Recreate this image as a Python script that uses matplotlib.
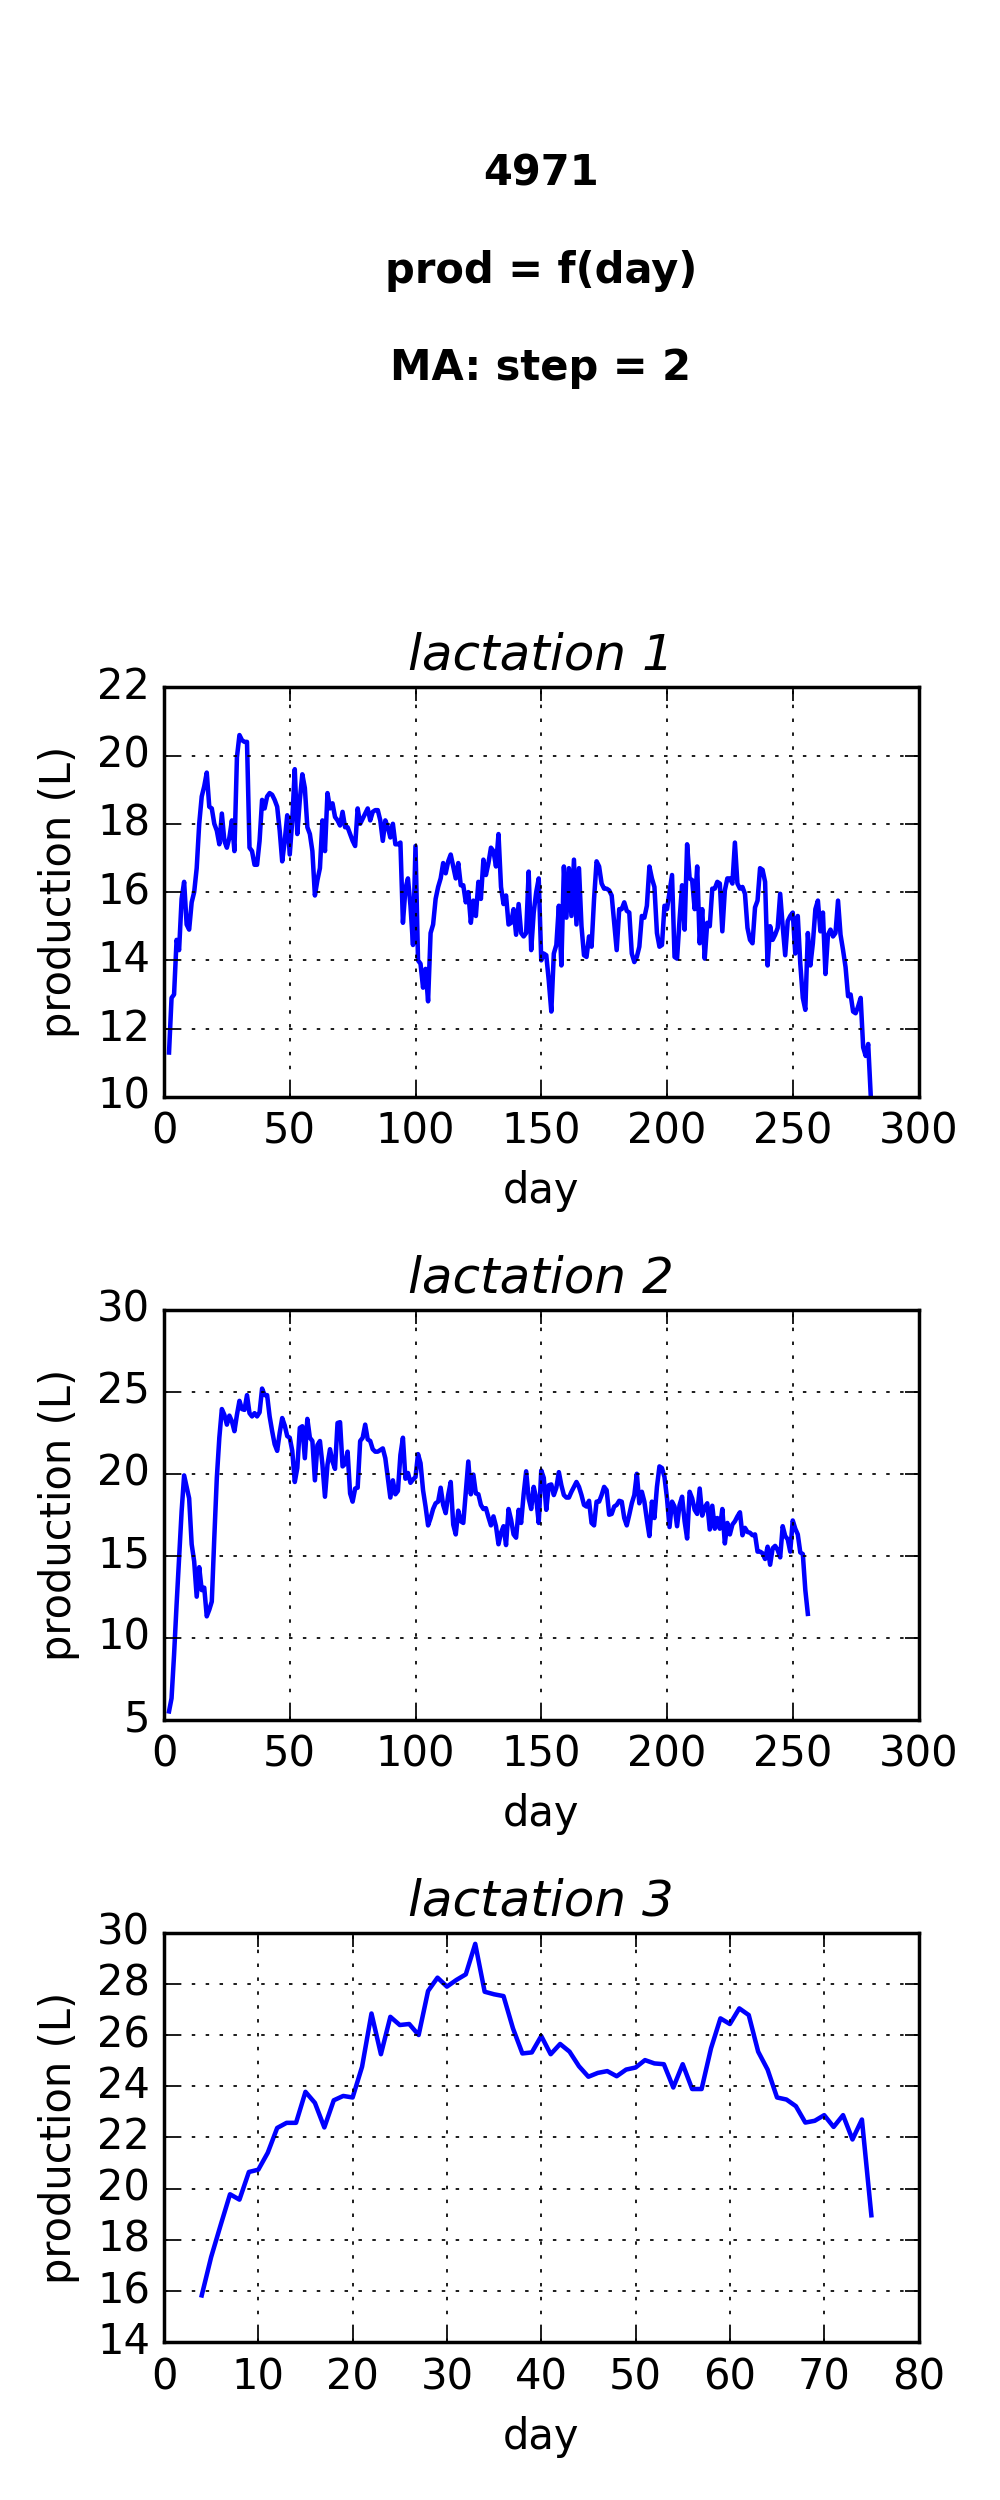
import matplotlib
matplotlib.use('Agg')
import matplotlib.pyplot as plt

plt.style.use('classic')
plt.rcParams['figure.facecolor'] = 'white'
plt.rcParams['savefig.facecolor'] = 'white'

# moving average (step 2) of daily production, one value per day
day1 = list(range(2, 282))
prod1 = [11.3, 12.9, 13.0, 14.6, 14.3, 15.8, 16.3, 15.05, 14.9, 15.7,
         16.0, 16.7, 18.0, 18.8, 19.1, 19.5, 18.5, 18.45, 18.0, 17.8,
         17.4, 18.3, 17.5, 17.3, 17.6, 18.1, 17.2, 19.95, 20.6, 20.45,
         20.4, 20.4, 17.3, 17.2, 16.8, 16.8, 17.5, 18.7, 18.45, 18.8,
         18.9, 18.85, 18.7, 18.5, 17.8, 16.9, 17.5, 18.25, 17.1, 18.1,
         19.6, 17.7, 18.7, 19.45, 19.05, 17.9, 17.7, 17.2, 15.9, 16.35,
         16.7, 18.1, 17.2, 18.9, 18.45, 18.6, 18.2, 18.1, 17.95, 18.35,
         17.9, 17.9, 17.7, 17.5, 17.35, 18.45, 18.0, 18.15, 18.3, 18.45,
         18.1, 18.35, 18.4, 18.4, 18.1, 17.5, 18.1, 17.9, 17.6, 18.0,
         17.4, 17.4, 17.45, 15.1, 16.1, 16.4, 15.6, 14.45, 17.35, 14.0,
         13.9, 13.2, 13.75, 12.8, 14.8, 15.05, 15.8, 16.15, 16.4, 16.85,
         16.55, 16.9, 17.1, 16.75, 16.4, 16.85, 16.2, 16.2, 15.7, 16.0,
         15.1, 15.75, 15.3, 16.3, 15.8, 16.95, 16.5, 16.85, 17.3, 17.2,
         16.75, 17.7, 16.15, 15.65, 15.9, 15.05, 15.1, 15.5, 14.75, 15.65,
         14.8, 14.7, 14.8, 16.6, 14.3, 15.4, 16.0, 16.4, 14.0, 14.2,
         14.15, 13.4, 12.5, 14.2, 14.45, 15.6, 13.85, 16.75, 15.25, 16.7,
         15.3, 16.95, 15.05, 16.7, 15.0, 14.15, 14.1, 14.7, 14.4, 15.8,
         16.9, 16.75, 16.25, 16.1, 16.1, 16.05, 15.9, 15.1, 14.3, 15.5,
         15.5, 15.7, 15.45, 15.4, 14.2, 13.95, 14.1, 14.4, 15.3, 15.25,
         15.6, 16.75, 16.4, 16.15, 14.8, 14.4, 14.45, 15.6, 15.5, 16.0,
         16.5, 14.1, 14.05, 15.2, 16.2, 14.9, 17.4, 16.4, 16.35, 15.5,
         16.75, 14.5, 15.5, 14.05, 15.1, 15.0, 16.1, 16.1, 16.3, 16.25,
         14.85, 16.05, 16.4, 16.4, 16.25, 17.45, 16.25, 16.1, 16.15, 15.95,
         14.95, 14.6, 14.5, 15.55, 15.75, 16.7, 16.65, 16.3, 13.85, 15.0,
         14.6, 14.75, 14.95, 15.95, 15.0, 14.15, 15.15, 15.3, 15.4, 14.2,
         15.3, 13.9, 12.9, 12.55, 14.8, 13.85, 14.5, 15.5, 15.75, 14.85,
         15.4, 13.6, 14.75, 14.9, 14.7, 14.8, 15.75, 14.75, 14.3, 13.8,
         12.95, 13.0, 12.5, 12.45, 12.65, 12.9, 11.45, 11.2, 11.55, 10.05]

day2 = list(range(2, 257))
prod2 = [5.5, 6.3, 8.95, 12.0, 14.85, 17.7, 19.9, 19.2, 18.5, 15.7,
         14.65, 12.5, 14.3, 12.9, 13.05, 11.3, 11.7, 12.2, 16.1, 19.75,
         22.2, 23.95, 23.6, 23.0, 23.55, 23.2, 22.6, 23.6, 24.45, 23.95,
         23.9, 24.8, 23.7, 23.5, 23.7, 23.5, 23.75, 25.2, 24.8, 24.8,
         23.5, 22.6, 21.8, 21.4, 22.5, 23.4, 22.95, 22.3, 22.2, 21.4,
         19.5, 20.35, 22.8, 22.9, 20.95, 23.35, 22.2, 22.0, 19.6, 21.75,
         22.0, 20.55, 18.6, 20.55, 21.5, 20.75, 20.3, 23.1, 23.15, 20.45,
         20.6, 21.35, 18.8, 18.3, 19.1, 19.15, 22.0, 22.2, 23.0, 22.1,
         22.0, 21.5, 21.35, 21.35, 21.45, 21.55, 20.95, 19.75, 18.55, 19.6,
         18.75, 18.95, 21.15, 22.2, 19.7, 20.05, 19.45, 19.65, 19.8, 21.2,
         20.65, 19.0, 18.0, 16.85, 17.3, 17.85, 18.2, 18.3, 19.15, 18.1,
         17.6, 18.7, 19.5, 16.9, 16.3, 17.75, 17.1, 17.0, 18.9, 20.75,
         18.75, 19.95, 18.8, 18.75, 18.1, 17.85, 17.9, 17.35, 16.85, 17.4,
         16.8, 15.7, 16.4, 16.8, 15.65, 17.85, 17.2, 16.3, 16.1, 17.8,
         17.0, 18.75, 20.15, 18.5, 17.85, 19.2, 18.5, 17.0, 20.2, 19.75,
         17.8, 19.3, 19.35, 18.7, 19.15, 20.1, 19.3, 18.7, 18.55, 18.55,
         18.9, 19.2, 19.5, 19.2, 18.7, 18.1, 18.0, 18.35, 17.0, 16.85,
         18.3, 18.3, 18.7, 19.2, 19.0, 17.5, 17.55, 18.0, 18.1, 18.35,
         18.3, 17.3, 16.85, 17.5, 18.2, 18.7, 20.0, 18.2, 18.9, 18.3,
         17.2, 16.2, 18.3, 17.3, 19.2, 20.45, 20.35, 19.8, 18.5, 16.75,
         18.3, 18.0, 16.8, 18.1, 18.6, 17.1, 16.05, 18.9, 18.5, 17.8,
         17.55, 19.1, 17.45, 17.95, 18.2, 16.6, 18.05, 16.65, 17.3, 16.65,
         17.85, 15.75, 17.0, 16.3, 16.9, 17.1, 17.4, 17.65, 16.25, 16.7,
         16.45, 16.4, 16.25, 16.3, 15.25, 15.25, 15.15, 14.8, 15.55, 14.45,
         15.45, 15.6, 15.35, 14.9, 16.8, 16.2, 16.0, 15.25, 17.15, 16.65,
         16.3, 15.2, 15.1, 12.9, 11.45]

day3 = list(range(4, 76))
prod3 = [15.83, 17.33, 18.57, 19.78, 19.57, 20.65, 20.74, 21.4, 22.37, 22.57,
         22.57, 23.78, 23.35, 22.39, 23.45, 23.62, 23.56, 24.76, 26.84, 25.25,
         26.71, 26.39, 26.43, 26.0, 27.72, 28.24, 27.89, 28.15, 28.37, 29.56,
         27.69, 27.59, 27.52, 26.26, 25.28, 25.32, 25.96, 25.25, 25.65, 25.35,
         24.78, 24.37, 24.52, 24.59, 24.39, 24.65, 24.73, 25.02, 24.89, 24.86,
         23.95, 24.86, 23.89, 23.89, 25.48, 26.65, 26.43, 27.04, 26.78, 25.35,
         24.65, 23.56, 23.48, 23.22, 22.58, 22.65, 22.87, 22.41, 22.87, 21.92,
         22.7, 18.96]

titles = ['lactation 1', 'lactation 2', 'lactation 3']
xlims = [(0, 300), (0, 300), (0, 80)]
ylims = [(10, 22), (5, 30), (14, 30)]

fig, axes = plt.subplots(3, 1, figsize=(4, 10), dpi=250)
fig.subplots_adjust(left=0.164, right=0.9185, top=0.7251, bottom=0.0631, hspace=0.52)

for ax, d, p, t, xl, yl in zip(axes, [day1, day2, day3], [prod1, prod2, prod3],
                                titles, xlims, ylims):
    ax.plot(d, p, 'b-', lw=1.3)
    ax.set_title(t, style='italic')
    ax.set_xlabel('day')
    ax.set_ylabel('production (L)')
    ax.set_xlim(xl)
    ax.set_ylim(yl)
    ax.grid(True)

fig.text(0.541, 0.8918, '4971\n\nprod = f(day)\n\nMA: step = 2',
         ha='center', va='center', fontsize=12, fontweight='bold')

fig.savefig('out.png', dpi=250)
